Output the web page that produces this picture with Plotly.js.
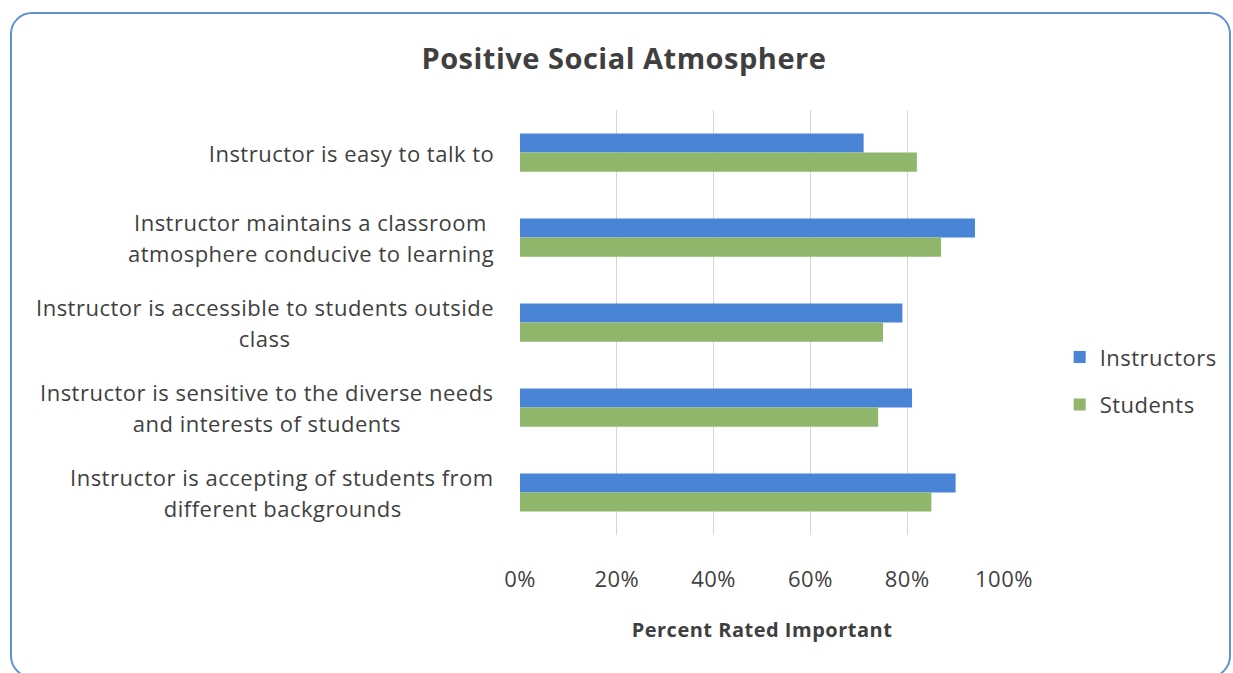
<!DOCTYPE html>
<html>
<head>
<meta charset="utf-8">
<script src="https://cdn.plot.ly/plotly-3.0.1.min.js"></script>
<style>
  html, body { margin: 0; padding: 0; background: #ffffff; }
  #wrap { position: relative; width: 1233px; height: 673px; }
  #chart { width: 1233px; height: 673px; }
  #chart svg text { letter-spacing: 0.5px; }
  #frame { position: absolute; left: 10px; top: 12px; width: 1221px; height: 666px;
           border: 2px solid #5f92d3; border-radius: 22px; box-sizing: border-box; pointer-events: none; }
</style>
</head>
<body>
<div id="wrap">
  <div id="chart"></div>
  <div id="frame"></div>
</div>
<script>
const categories = [
  "Instructor is easy to talk to",
  "Instructor maintains a classroom<br>atmosphere conducive to learning",
  "Instructor is accessible to students outside<br>class",
  "Instructor is sensitive to the diverse needs<br>and interests of students",
  "Instructor is accepting of students from<br>different backgrounds"
];
const instructors = [0.71, 0.94, 0.79, 0.81, 0.90];
const students = [0.82, 0.87, 0.75, 0.74, 0.85];
const tickVals = [0, 0.2, 0.4, 0.6, 0.8, 1.0];
const tickText = ["0%", "20%", "40%", "60%", "80%", "100%"];

const FONT = "'Open Sans', sans-serif";
const TXT = "#3f3f3f";
const LABEL_SIZE = 22;

const traces = [
  { type: "bar", orientation: "h", name: "Instructors", y: categories, x: instructors,
    marker: { color: "#4a84d6" }, legendgroup: "a", hoverinfo: "x+name" },
  { type: "bar", orientation: "h", name: "Students", y: categories, x: students,
    marker: { color: "#90b66b" }, legendgroup: "b", hoverinfo: "x+name" }
];

const measure = document.createElement("canvas").getContext("2d");
measure.font = LABEL_SIZE + "px 'Open Sans'";
if ("letterSpacing" in measure) measure.letterSpacing = "0.5px";

function buildAnnotations() {
  const annotations = [];
  const lineGap = 31;
  categories.forEach(c => {
    const lines = c.split("<br>");
    const blockW = Math.max(...lines.map(l => measure.measureText(l).width));
    lines.forEach((ln, i) => {
      const off = ((lines.length - 1) / 2 - i) * lineGap;
      annotations.push({
        x: 0, xref: "x", y: c, yref: "y", text: ln, showarrow: false,
        xanchor: "center", yanchor: "middle", yshift: off, xshift: -26 - blockW / 2,
        font: { family: FONT, size: LABEL_SIZE, color: TXT }
      });
    });
  });
  return annotations;
}

function draw() {
  const layout = {
    width: 1233, height: 673,
    margin: { l: 520, r: 229, t: 110, b: 138 },
    paper_bgcolor: "#ffffff", plot_bgcolor: "#ffffff",
    title: { text: "<b>Positive Social Atmosphere</b>", x: 0.506, xanchor: "center", y: 0.913, yanchor: "middle",
             font: { family: FONT, size: 29, color: TXT } },
    barmode: "group", bargap: 0.55, bargroupgap: 0,
    xaxis: {
      range: [0, 1], tickvals: tickVals, ticktext: tickText,
      showgrid: true, gridcolor: "#d6d6d6", gridwidth: 1, zeroline: false,
      ticks: "outside", ticklen: 25, tickcolor: "rgba(0,0,0,0)",
      tickfont: { family: FONT, size: 22, color: TXT },
      showline: false,
      title: { text: "<b>Percent Rated Important</b>", standoff: 30,
               font: { family: FONT, size: 20, color: TXT } }
    },
    yaxis: {
      type: "category", autorange: "reversed", showticklabels: false,
      showgrid: false, zeroline: false, ticks: "", showline: false
    },
    legend: {
      x: 1.115, xanchor: "left", y: 0.362, yanchor: "middle",
      traceorder: "grouped", tracegroupgap: 16,
      font: { family: FONT, size: 22, color: TXT },
      itemwidth: 30
    },
    annotations: buildAnnotations(),
    showlegend: true
  };
  Plotly.newPlot("chart", traces, layout, { displayModeBar: false, staticPlot: true });
}

if (document.fonts && document.fonts.load) {
  document.fonts.load(LABEL_SIZE + "px 'Open Sans'").then(draw, draw);
} else {
  draw();
}
</script>
</body>
</html>
